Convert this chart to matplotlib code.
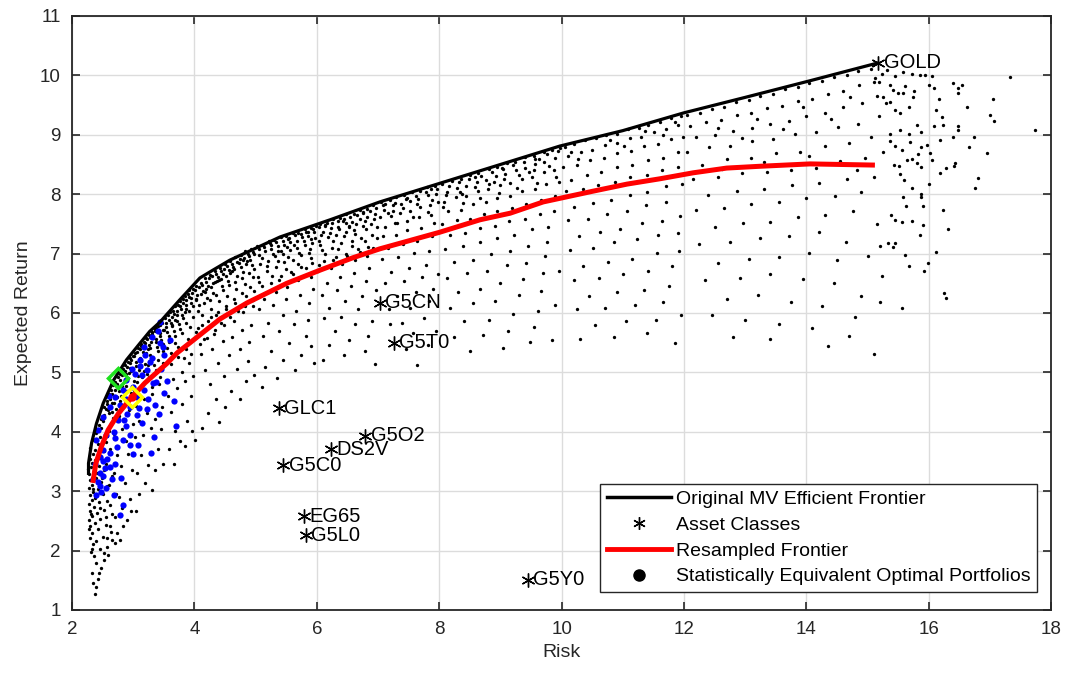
import numpy as np
import matplotlib
matplotlib.use("Agg")
import matplotlib.pyplot as plt
from matplotlib.lines import Line2D

plt.rcParams['font.family'] = ['Liberation Sans', 'DejaVu Sans']

# frontera original (MV) y frontera remuestreada
front_risk = [2.27, 2.27, 2.32, 2.40, 2.51, 2.68, 2.89, 3.11, 3.27, 3.44, 3.76, 4.09, 4.30, 4.58,
              5.40, 6.22, 7.03, 8.00, 9.00, 9.97, 11.00, 12.00, 13.00, 14.06, 15.17]
front_ret = [3.30, 3.47, 3.81, 4.14, 4.48, 4.87, 5.21, 5.49, 5.69, 5.85, 6.22, 6.59, 6.72, 6.89,
             7.28, 7.57, 7.87, 8.18, 8.50, 8.81, 9.07, 9.37, 9.63, 9.91, 10.21]

resamp_risk = [2.34, 2.39, 2.48, 2.59, 2.76, 2.96, 3.19, 3.55, 3.72, 3.93, 4.15, 4.42, 4.86,
               5.51, 6.05, 6.59, 7.03, 8.01, 8.67, 9.16, 9.70, 10.51, 11.07, 11.61, 12.15,
               12.70, 13.24, 14.06, 15.12]
resamp_ret = [3.14, 3.47, 3.75, 4.03, 4.31, 4.56, 4.82, 5.15, 5.33, 5.50, 5.68, 5.90, 6.17,
              6.50, 6.72, 6.93, 7.08, 7.36, 7.57, 7.68, 7.87, 8.05, 8.17, 8.26, 8.36,
              8.44, 8.47, 8.51, 8.49]

# clases de activos
asset_names = ['GOLD', 'G5CN', 'G5T0', 'GLC1', 'G5O2', 'DS2V', 'G5C0', 'EG65', 'G5L0', 'G5Y0']
asset_risk = [15.17, 7.03, 7.26, 5.38, 6.79, 6.23, 5.45, 5.79, 5.82, 9.45]
asset_ret = [10.21, 6.17, 5.50, 4.40, 3.93, 3.71, 3.44, 2.58, 2.26, 1.51]

# carteras remuestreadas (nube de puntos negros)
cloud_left = [
    (2.38, 1.27), (2.35, 1.46), (2.43, 1.53), (2.33, 1.63), (2.47, 1.71), (2.40, 1.79), (2.53, 1.84),
    (2.36, 1.91), (2.31, 1.97), (2.45, 2.03), (2.58, 2.06), (2.34, 2.11), (2.39, 2.16), (2.29, 2.21),
    (2.51, 2.23), (2.63, 2.31), (2.33, 2.29), (2.42, 2.36), (2.30, 2.41), (2.56, 2.43), (2.37, 2.46),
    (2.28, 2.51), (2.46, 2.53), (2.71, 2.56), (2.33, 2.59), (2.41, 2.63), (2.29, 2.67), (2.52, 2.69),
    (2.36, 2.73), (2.62, 2.76), (2.27, 2.79), (2.44, 2.81), (2.32, 2.85), (2.38, 2.89), (2.77, 2.91),
    (2.29, 2.93), (2.50, 2.96), (2.35, 2.99), (2.42, 3.03), (2.27, 3.06), (2.58, 3.09), (2.33, 3.11),
    (2.47, 3.16), (2.30, 3.19), (2.39, 3.23), (2.66, 3.26), (2.28, 3.29), (2.36, 3.33), (2.52, 3.36),
    (2.31, 3.41), (2.44, 3.43), (2.30, 3.55), (2.34, 3.62), (2.38, 3.70), (2.29, 3.73), (2.42, 3.79),
    (2.36, 3.86), (2.45, 3.91), (2.40, 3.98), (2.48, 4.06), (2.44, 4.12), (2.50, 4.18), (2.47, 4.22),
    (2.52, 4.29), (2.55, 4.38), (2.58, 4.46), (2.62, 4.55), (2.60, 4.31), (2.66, 4.63), (2.70, 4.71),
    (2.68, 4.49), (2.74, 4.81), (2.78, 4.87), (2.72, 4.39), (2.82, 4.96), (2.86, 5.03), (2.80, 4.61),
    (2.90, 5.09), (2.94, 5.16), (2.88, 4.77), (2.97, 5.21), (2.92, 4.91), (2.64, 4.14), (2.76, 4.26),
    (2.84, 4.44), (2.96, 4.66), (2.57, 3.93), (2.69, 3.96), (2.81, 4.04), (2.93, 4.36), (2.62, 3.71),
    (2.74, 3.61), (2.88, 3.84), (2.99, 4.13), (2.56, 3.46), (2.68, 3.31), (2.80, 3.43), (2.92, 3.63),
    (2.60, 3.11), (2.72, 2.96), (2.86, 3.14), (2.98, 3.36), (2.58, 2.83), (2.66, 2.61), (2.82, 2.71),
    (2.94, 2.87), (2.62, 2.41), (2.74, 2.29), (2.90, 2.52), (2.70, 2.13), (2.78, 2.17), (2.55, 2.56),
    (2.57, 2.21), (2.53, 1.96), (2.32, 3.48), (2.37, 3.52), (2.26, 3.38), (2.41, 3.30), (2.48, 3.58),
    (2.53, 3.67), (2.35, 3.04), (2.45, 2.72), (2.31, 2.62), (2.40, 2.92), (2.49, 3.22), (2.55, 3.82),
    (2.61, 4.02), (2.67, 4.24), (2.73, 4.58), (2.84, 4.69), (2.89, 4.97), (2.95, 5.08), (2.28, 2.36),
    (2.32, 2.02), (2.44, 1.62), (2.39, 1.38), (2.59, 1.92), (2.65, 2.18), (2.83, 2.41), (2.97, 2.66),
]

cloud_band = [
    (2.53, 4.41), (2.57, 4.52), (2.61, 4.63), (2.64, 4.71), (2.67, 4.79), (2.71, 4.84), (2.75, 4.92),
    (2.79, 4.98), (2.83, 5.05), (2.87, 5.12), (2.91, 5.18), (2.95, 5.24), (2.99, 5.27), (3.03, 5.33),
    (3.08, 5.41), (3.13, 5.47), (3.17, 5.52), (3.21, 5.58), (3.26, 5.63), (3.31, 5.68), (3.36, 5.73),
    (3.41, 5.78), (3.47, 5.83), (2.59, 4.37), (2.65, 4.48), (2.69, 4.61), (2.77, 4.68), (2.81, 4.77),
    (2.87, 4.88), (2.93, 4.99), (2.97, 5.03), (3.05, 5.17), (3.11, 5.24), (3.16, 5.34), (3.24, 5.39),
    (3.29, 5.51), (3.37, 5.57), (3.43, 5.66), (3.49, 5.71), (2.66, 4.33), (2.79, 4.52), (2.90, 4.68),
    (3.01, 4.86), (3.09, 5.04), (3.19, 5.14), (3.28, 5.29), (3.39, 5.43), (3.46, 5.55), (3.14, 4.93),
    (3.23, 4.98), (3.34, 5.12), (3.41, 5.21), (3.48, 5.36), (3.07, 4.83), (3.31, 4.76), (3.44, 4.93),
    (3.53, 5.83), (3.58, 5.89), (3.63, 5.93), (3.67, 5.99), (3.71, 6.04), (3.77, 6.11), (3.82, 6.17),
    (3.87, 6.22), (3.91, 6.27), (3.96, 6.33), (4.01, 6.38), (4.07, 6.43), (4.13, 6.47), (4.19, 6.53),
    (4.24, 6.59), (4.29, 6.62), (4.36, 6.66), (4.43, 6.71), (4.49, 6.74), (4.54, 6.79), (4.61, 6.82),
    (4.69, 6.86), (4.74, 6.91), (4.81, 6.93), (4.88, 6.99), (4.95, 7.02), (3.56, 5.68), (3.64, 5.78),
    (3.72, 5.87), (3.79, 5.97), (3.85, 6.02), (3.94, 6.16), (4.03, 6.23), (4.11, 6.32), (4.18, 6.36),
    (4.27, 6.43), (4.34, 6.52), (4.41, 6.55), (4.52, 6.63), (4.58, 6.68), (4.65, 6.74), (4.76, 6.78),
    (4.85, 6.83), (4.91, 6.89), (3.59, 5.52), (3.68, 5.62), (3.77, 5.73), (3.86, 5.84), (3.97, 5.94),
    (4.06, 6.04), (4.16, 6.16), (4.25, 6.22), (4.35, 6.31), (4.47, 6.38), (4.57, 6.47), (4.67, 6.52),
    (4.77, 6.59), (4.89, 6.67), (4.97, 6.74), (3.62, 5.33), (3.74, 5.43), (3.89, 5.56), (4.02, 5.68),
    (4.13, 5.79), (4.27, 5.93), (4.39, 6.02), (4.52, 6.12), (4.64, 6.23), (4.77, 6.33), (4.91, 6.44),
    (3.83, 5.24), (4.09, 5.47), (4.34, 5.71), (4.58, 5.94), (4.83, 6.12), (3.94, 5.31), (4.21, 5.58),
    (4.44, 5.84), (4.71, 6.04), (4.96, 6.22), (5.05, 7.07), (5.14, 7.11), (5.25, 7.14), (5.34, 7.19),
    (5.44, 7.22), (5.55, 7.26), (5.64, 7.31), (5.74, 7.33), (5.85, 7.37), (5.94, 7.41), (6.04, 7.45),
    (6.14, 7.48), (6.25, 7.51), (6.35, 7.55), (6.45, 7.58), (6.55, 7.61), (6.66, 7.65), (6.76, 7.68),
    (6.87, 7.72), (6.97, 7.76), (5.11, 6.92), (5.28, 7.00), (5.41, 7.05), (5.52, 7.11), (5.63, 7.14),
    (5.79, 7.21), (5.91, 7.25), (6.07, 7.32), (6.21, 7.35), (6.36, 7.41), (6.52, 7.47), (6.64, 7.49),
    (6.79, 7.55), (6.93, 7.58), (5.19, 6.79), (5.37, 6.87), (5.53, 6.94), (5.71, 7.01), (5.89, 7.07),
    (6.06, 7.14), (6.27, 7.22), (6.44, 7.29), (6.63, 7.33), (6.81, 7.41), (6.98, 7.45), (5.27, 6.62),
    (5.49, 6.74), (5.69, 6.83), (5.91, 6.93), (6.14, 6.99), (6.35, 7.07), (6.57, 7.13), (6.78, 7.21),
    (6.99, 7.26), (5.06, 6.53), (5.39, 6.55), (5.61, 6.66), (5.83, 6.76), (6.04, 6.81), (6.26, 6.89),
    (6.49, 6.96), (6.71, 7.03), (6.92, 7.09), (7.09, 7.82), (7.27, 7.86), (7.46, 7.92), (7.62, 7.97),
    (7.78, 8.03), (7.97, 8.08), (8.16, 8.14), (8.33, 8.20), (8.49, 8.26), (8.68, 8.31), (8.86, 8.37),
    (9.03, 8.44), (9.21, 8.49), (9.38, 8.55), (9.56, 8.60), (9.76, 8.67), (9.94, 8.72), (7.17, 7.68),
    (7.41, 7.76), (7.63, 7.83), (7.89, 7.91), (8.11, 7.98), (8.34, 8.04), (8.58, 8.12), (8.81, 8.18),
    (9.06, 8.26), (9.31, 8.33), (9.55, 8.40), (9.79, 8.47), (7.28, 7.52), (7.57, 7.61), (7.82, 7.70),
    (8.07, 7.79), (8.39, 7.86), (8.67, 7.93), (8.98, 8.02), (9.27, 8.11), (9.60, 8.19), (9.91, 8.29),
]

cloud_mid1 = [
    (3.02, 5.28), (3.07, 5.34), (3.11, 5.39), (3.13, 5.45), (3.19, 5.49), (3.22, 5.56), (3.27, 5.59),
    (3.30, 5.65), (3.35, 5.69), (3.38, 5.75), (3.43, 5.79), (3.46, 5.86), (3.04, 5.11), (3.12, 5.19),
    (3.21, 5.33), (3.28, 5.41), (3.37, 5.52), (3.44, 5.61), (3.08, 4.94), (3.17, 5.03), (3.24, 5.13),
    (3.33, 5.24), (3.41, 5.36), (3.48, 5.48), (3.02, 4.71), (3.15, 4.79), (3.26, 4.92), (3.38, 5.04),
    (3.49, 5.16), (3.05, 4.44), (3.18, 4.56), (3.31, 4.64), (3.42, 4.81), (3.10, 4.19), (3.22, 4.32),
    (3.36, 4.21), (3.47, 4.41), (3.03, 3.91), (3.16, 3.94), (3.29, 4.06), (3.45, 4.04), (3.12, 3.61),
    (3.24, 3.44), (3.40, 3.71), (3.06, 3.31), (3.20, 3.14), (3.35, 3.36), (3.10, 2.96), (3.30, 3.02),
    (3.04, 2.66), (3.48, 3.46), (3.52, 5.91), (3.57, 5.96), (3.60, 6.01), (3.65, 6.04), (3.68, 6.11),
    (3.73, 6.14), (3.76, 6.21), (3.81, 6.23), (3.84, 6.29), (3.89, 6.32), (3.92, 6.38), (3.97, 6.40),
    (3.54, 5.76), (3.62, 5.84), (3.71, 5.96), (3.78, 6.06), (3.86, 6.14), (3.95, 6.26), (3.58, 5.61),
    (3.66, 5.69), (3.75, 5.81), (3.82, 5.91), (3.91, 6.03), (3.98, 6.11), (3.55, 5.41), (3.69, 5.49),
    (3.80, 5.66), (3.93, 5.77), (3.61, 5.14), (3.73, 5.26), (3.87, 5.39), (3.99, 5.56), (3.65, 4.89),
    (3.79, 5.01), (3.92, 5.16), (3.57, 4.61), (3.71, 4.74), (3.85, 4.86), (3.97, 4.94), (3.62, 4.34),
    (3.80, 4.46), (3.95, 4.61), (3.68, 4.01), (3.88, 4.19), (3.58, 3.71), (3.77, 3.84), (3.96, 4.02),
    (3.66, 3.46), (3.85, 3.76), (4.01, 3.86), (4.03, 6.46), (4.11, 6.51), (4.17, 6.59), (4.26, 6.64),
    (4.33, 6.71), (4.42, 6.75), (4.50, 6.83), (4.59, 6.87), (4.66, 6.94), (4.76, 6.97), (4.83, 7.04),
    (4.93, 7.07), (4.05, 6.31), (4.14, 6.37), (4.23, 6.46), (4.30, 6.51), (4.39, 6.61), (4.46, 6.65),
    (4.56, 6.73), (4.63, 6.77), (4.73, 6.85), (4.80, 6.89), (4.90, 6.96), (4.98, 6.99), (4.08, 6.14),
    (4.21, 6.26), (4.31, 6.34), (4.45, 6.46), (4.55, 6.54), (4.69, 6.63), (4.79, 6.69), (4.94, 6.81),
    (4.12, 5.96), (4.27, 6.07), (4.40, 6.21), (4.53, 6.29), (4.68, 6.41), (4.82, 6.49), (4.96, 6.61),
    (4.06, 5.74), (4.23, 5.86), (4.36, 5.97), (4.51, 6.06), (4.66, 6.17), (4.84, 6.29), (4.98, 6.37),
    (4.15, 5.56), (4.32, 5.64), (4.48, 5.79), (4.64, 5.87), (4.80, 6.01), (4.95, 6.11), (4.10, 5.31),
    (4.28, 5.39), (4.46, 5.53), (4.62, 5.59), (4.78, 5.71), (4.92, 5.79), (4.18, 5.04), (4.38, 5.16),
    (4.56, 5.29), (4.74, 5.39), (4.90, 5.51), (4.25, 4.81), (4.48, 4.94), (4.70, 5.06), (4.88, 5.19),
    (4.35, 4.56), (4.60, 4.69), (4.85, 4.86), (4.22, 4.31), (4.50, 4.41), (4.12, 4.06), (4.40, 4.16),
    (4.75, 4.56), (4.98, 4.96), (3.33, 5.58), (3.51, 5.72), (3.69, 5.88), (3.87, 6.06), (4.02, 6.22),
    (4.19, 6.41), (4.37, 6.54), (4.61, 6.70), (4.86, 6.87), (3.26, 5.46), (3.63, 5.80), (4.44, 6.58),
]

cloud_mid2 = [
    (5.03, 7.12), (5.12, 7.15), (5.22, 7.21), (5.30, 7.23), (5.41, 7.28), (5.50, 7.29), (5.61, 7.34),
    (5.70, 7.35), (5.81, 7.41), (5.90, 7.43), (5.98, 7.47), (5.06, 6.97), (5.16, 7.04), (5.26, 7.07),
    (5.37, 7.13), (5.46, 7.14), (5.56, 7.20), (5.67, 7.22), (5.76, 7.28), (5.86, 7.30), (5.96, 7.36),
    (5.08, 6.83), (5.21, 6.87), (5.32, 6.96), (5.44, 6.99), (5.57, 7.06), (5.68, 7.09), (5.81, 7.15),
    (5.92, 7.17), (5.04, 6.61), (5.18, 6.71), (5.33, 6.77), (5.46, 6.86), (5.61, 6.89), (5.74, 6.97),
    (5.88, 7.01), (5.10, 6.46), (5.26, 6.51), (5.42, 6.63), (5.58, 6.69), (5.74, 6.77), (5.92, 6.84),
    (5.14, 6.24), (5.34, 6.36), (5.52, 6.44), (5.70, 6.56), (5.90, 6.61), (5.06, 6.06), (5.28, 6.14),
    (5.50, 6.23), (5.72, 6.31), (5.94, 6.41), (5.20, 5.84), (5.44, 5.96), (5.66, 6.04), (5.88, 6.16),
    (5.12, 5.61), (5.38, 5.69), (5.62, 5.81), (5.86, 5.89), (5.25, 5.36), (5.55, 5.49), (5.82, 5.61),
    (5.15, 5.09), (5.45, 5.21), (5.75, 5.29), (5.35, 4.91), (5.65, 5.04), (5.95, 5.16), (5.10, 4.76),
    (5.90, 5.44), (6.05, 7.50), (6.16, 7.52), (6.26, 7.58), (6.38, 7.60), (6.48, 7.66), (6.60, 7.67),
    (6.70, 7.73), (6.82, 7.75), (6.92, 7.81), (6.10, 7.37), (6.23, 7.43), (6.34, 7.45), (6.47, 7.51),
    (6.58, 7.53), (6.71, 7.59), (6.82, 7.61), (6.95, 7.67), (6.04, 7.21), (6.19, 7.28), (6.32, 7.31),
    (6.47, 7.37), (6.60, 7.39), (6.75, 7.46), (6.88, 7.49), (6.08, 7.06), (6.25, 7.09), (6.40, 7.17),
    (6.57, 7.21), (6.72, 7.27), (6.90, 7.31), (6.12, 6.87), (6.31, 6.95), (6.48, 6.99), (6.67, 7.07),
    (6.84, 7.11), (6.02, 6.71), (6.23, 6.75), (6.42, 6.83), (6.63, 6.89), (6.82, 6.96), (6.16, 6.51),
    (6.38, 6.61), (6.61, 6.67), (6.86, 6.76), (6.08, 6.31), (6.33, 6.39), (6.56, 6.46), (6.80, 6.54),
    (6.20, 6.09), (6.46, 6.21), (6.74, 6.29), (6.96, 6.39), (6.12, 5.91), (6.40, 5.94), (6.68, 6.06),
    (6.30, 5.69), (6.62, 5.81), (6.90, 5.87), (6.20, 5.46), (6.52, 5.54), (6.84, 5.61), (6.45, 5.29),
    (6.78, 5.36), (6.10, 5.21), (6.95, 5.14), (7.05, 7.87), (7.19, 7.90), (7.30, 7.96), (7.43, 7.98),
    (7.55, 8.04), (7.69, 8.06), (7.80, 8.12), (7.93, 8.14), (7.10, 7.74), (7.25, 7.81), (7.38, 7.83),
    (7.53, 7.89), (7.66, 7.92), (7.81, 7.98), (7.94, 8.00), (7.04, 7.61), (7.21, 7.63), (7.36, 7.69),
    (7.53, 7.72), (7.68, 7.79), (7.85, 7.81), (7.98, 7.87), (7.12, 7.44), (7.31, 7.51), (7.48, 7.55),
    (7.67, 7.61), (7.86, 7.65), (7.08, 7.29), (7.29, 7.32), (7.48, 7.39), (7.71, 7.43), (7.92, 7.51),
    (7.16, 7.09), (7.41, 7.16), (7.64, 7.21), (7.89, 7.29), (7.06, 6.91), (7.32, 6.94), (7.59, 7.01),
    (7.84, 7.05), (7.22, 6.69), (7.51, 6.76), (7.78, 6.81), (7.12, 6.51), (7.43, 6.54), (7.72, 6.61),
    (7.98, 6.65), (7.31, 6.29), (7.62, 6.36), (7.90, 6.41), (7.18, 6.06), (7.53, 6.09), (7.84, 6.21),
    (7.40, 5.84), (7.76, 5.91), (7.58, 5.66), (7.95, 5.69), (7.46, 5.39), (7.82, 5.46), (7.64, 5.12),
    (7.20, 5.81), (5.23, 7.17), (5.53, 7.25), (5.83, 7.37), (6.13, 7.46), (6.43, 7.55), (6.76, 7.70),
    (7.12, 7.83), (7.47, 7.94), (7.87, 8.09), (5.36, 7.05), (5.97, 7.26), (6.53, 7.44), (7.24, 7.71),
]

cloud_mid3 = [
    (8.05, 8.17), (8.21, 8.23), (8.35, 8.26), (8.51, 8.33), (8.64, 8.36), (8.81, 8.43), (8.95, 8.45),
    (9.11, 8.52), (9.24, 8.55), (9.41, 8.62), (9.55, 8.65), (9.71, 8.71), (9.84, 8.74), (9.98, 8.78),
    (8.12, 8.04), (8.29, 8.11), (8.44, 8.13), (8.61, 8.21), (8.76, 8.24), (8.93, 8.31), (9.08, 8.34),
    (9.25, 8.41), (9.40, 8.44), (9.57, 8.51), (9.72, 8.54), (9.90, 8.61), (8.08, 7.87), (8.27, 7.95),
    (8.44, 7.97), (8.63, 8.05), (8.80, 8.08), (8.99, 8.15), (9.16, 8.19), (9.35, 8.26), (9.52, 8.29),
    (9.71, 8.37), (9.88, 8.41), (8.15, 7.71), (8.36, 7.74), (8.55, 7.83), (8.76, 7.87), (8.95, 7.93),
    (9.16, 7.97), (9.35, 8.05), (9.56, 8.09), (9.75, 8.17), (9.95, 8.21), (8.05, 7.49), (8.29, 7.56),
    (8.50, 7.59), (8.73, 7.67), (8.94, 7.71), (9.19, 7.77), (9.42, 7.83), (9.67, 7.91), (9.90, 7.97),
    (8.18, 7.31), (8.43, 7.34), (8.66, 7.43), (8.91, 7.47), (9.14, 7.55), (9.41, 7.59), (9.64, 7.67),
    (9.88, 7.71), (8.10, 7.07), (8.39, 7.13), (8.66, 7.19), (8.95, 7.26), (9.22, 7.31), (9.51, 7.41),
    (9.78, 7.45), (8.25, 6.86), (8.56, 6.89), (8.85, 6.99), (9.16, 7.04), (9.45, 7.13), (9.76, 7.19),
    (8.12, 6.59), (8.46, 6.67), (8.78, 6.71), (9.11, 6.81), (9.42, 6.85), (9.73, 6.96), (8.30, 6.36),
    (8.67, 6.41), (9.00, 6.51), (9.37, 6.57), (9.70, 6.67), (9.95, 6.71), (8.18, 6.09), (8.56, 6.16),
    (8.92, 6.21), (9.31, 6.31), (9.66, 6.37), (8.40, 5.86), (8.81, 5.89), (9.20, 5.99), (9.61, 6.04),
    (9.90, 6.13), (8.25, 5.59), (8.71, 5.63), (9.12, 5.69), (9.55, 5.76), (8.50, 5.36), (9.05, 5.41),
    (9.48, 5.51), (9.85, 5.54), (10.05, 8.80), (10.21, 8.84), (10.38, 8.91), (10.56, 8.94),
    (10.72, 9.00), (10.91, 9.02), (11.08, 9.09), (11.26, 9.11), (11.42, 9.17), (11.61, 9.21),
    (11.78, 9.28), (11.95, 9.31), (10.10, 8.64), (10.31, 8.71), (10.50, 8.75), (10.71, 8.83),
    (10.90, 8.87), (11.11, 8.94), (11.30, 8.97), (11.51, 9.05), (11.70, 9.09), (11.91, 9.16),
    (10.02, 8.46), (10.25, 8.49), (10.46, 8.57), (10.69, 8.61), (10.90, 8.69), (11.13, 8.73),
    (11.34, 8.81), (11.57, 8.85), (11.78, 8.93), (11.98, 8.97), (10.15, 8.24), (10.41, 8.33),
    (10.65, 8.37), (10.91, 8.45), (11.15, 8.49), (11.41, 8.57), (11.65, 8.61), (11.90, 8.71),
    (10.08, 8.06), (10.35, 8.09), (10.60, 8.16), (10.87, 8.21), (11.12, 8.29), (11.39, 8.33),
    (11.64, 8.41), (11.90, 8.45), (10.20, 7.79), (10.51, 7.86), (10.80, 7.91), (11.11, 7.99),
    (11.40, 8.04), (11.71, 8.13), (11.96, 8.17), (10.10, 7.56), (10.43, 7.59), (10.74, 7.67),
    (11.07, 7.71), (11.38, 7.81), (11.70, 7.87), (10.28, 7.29), (10.63, 7.36), (10.96, 7.41),
    (11.31, 7.51), (11.64, 7.55), (11.94, 7.63), (10.14, 7.06), (10.51, 7.09), (10.86, 7.19),
    (11.23, 7.24), (11.58, 7.31), (11.90, 7.35), (10.35, 6.79), (10.76, 6.86), (11.15, 6.91),
    (11.56, 7.01), (11.92, 7.05), (10.20, 6.56), (10.61, 6.59), (11.00, 6.66), (11.41, 6.71),
    (11.80, 6.79), (10.45, 6.29), (10.91, 6.36), (11.35, 6.39), (11.76, 6.46), (10.25, 6.06),
    (10.71, 6.09), (11.20, 6.13), (11.65, 6.19), (10.55, 5.79), (11.06, 5.86), (11.55, 5.89),
    (11.95, 5.96), (10.30, 5.56), (10.86, 5.59), (11.40, 5.66), (11.85, 5.49), (8.58, 8.29),
    (9.04, 8.42), (9.63, 8.60), (10.16, 8.71), (10.79, 8.91), (11.36, 9.06), (11.86, 9.22),
    (8.89, 8.20), (9.46, 8.38), (10.27, 8.59), (11.02, 8.81), (11.66, 8.99), (8.38, 8.01),
]

cloud_right = [
    (12.05, 9.33), (12.26, 9.37), (12.45, 9.44), (12.66, 9.47), (12.85, 9.55), (13.06, 9.59),
    (13.25, 9.66), (13.46, 9.69), (13.65, 9.77), (13.86, 9.81), (14.05, 9.87), (14.26, 9.91),
    (14.45, 9.98), (14.66, 10.01), (14.85, 10.08), (15.05, 10.11), (12.10, 9.14), (12.36, 9.21),
    (12.60, 9.25), (12.86, 9.33), (13.10, 9.37), (13.36, 9.45), (13.60, 9.49), (13.86, 9.57),
    (14.10, 9.61), (14.36, 9.69), (14.60, 9.74), (14.86, 9.83), (15.10, 9.89), (12.20, 8.96),
    (12.51, 8.99), (12.80, 9.06), (13.11, 9.11), (13.40, 9.19), (13.71, 9.23), (14.00, 9.31),
    (14.31, 9.37), (14.60, 9.46), (14.91, 9.54), (15.15, 9.66), (12.05, 8.71), (12.41, 8.79),
    (12.75, 8.81), (13.11, 8.89), (13.45, 8.93), (13.81, 9.01), (14.15, 9.04), (14.51, 9.13),
    (14.85, 9.19), (15.18, 9.31), (12.30, 8.49), (12.71, 8.59), (13.10, 8.61), (13.51, 8.69),
    (13.90, 8.71), (14.31, 8.81), (14.70, 8.87), (15.05, 8.96), (12.15, 8.26), (12.56, 8.29),
    (12.95, 8.36), (13.36, 8.37), (13.75, 8.41), (14.16, 8.44), (14.55, 8.56), (14.95, 8.61),
    (15.25, 8.71), (12.40, 7.99), (12.86, 8.06), (13.30, 8.09), (13.76, 8.16), (14.20, 8.19),
    (14.66, 8.26), (15.10, 8.29), (12.20, 7.73), (12.66, 7.77), (13.10, 7.83), (13.56, 7.87),
    (14.00, 7.93), (14.46, 7.97), (14.90, 8.03), (12.50, 7.44), (12.96, 7.51), (13.40, 7.54),
    (13.86, 7.61), (14.30, 7.65), (14.76, 7.71), (15.15, 7.49), (12.25, 7.16), (12.76, 7.19),
    (13.25, 7.26), (13.71, 7.29), (14.20, 7.36), (14.65, 7.19), (12.55, 6.84), (13.06, 6.91),
    (13.55, 6.94), (14.05, 7.01), (14.50, 6.89), (15.00, 6.96), (12.35, 6.56), (12.91, 6.59),
    (13.40, 6.66), (13.95, 6.57), (14.45, 6.51), (14.90, 6.29), (12.70, 6.24), (13.21, 6.31),
    (13.75, 6.19), (14.25, 6.11), (14.80, 5.94), (12.45, 5.96), (13.00, 5.89), (13.55, 5.81),
    (14.10, 5.74), (14.70, 5.61), (12.80, 5.59), (13.40, 5.56), (14.35, 5.44), (15.10, 5.31),
    (12.55, 9.12), (13.20, 9.27), (13.95, 9.47), (14.72, 9.64), (12.95, 8.94), (13.62, 9.10),
    (14.40, 9.27), (12.62, 8.42), (13.30, 8.55), (14.05, 8.64), (14.82, 8.41),
]

cloud_far = [
    (17.33, 9.98), (17.74, 9.08), (17.05, 9.61), (17.00, 9.33), (17.07, 9.24), (16.63, 9.46),
    (16.39, 9.88), (16.47, 9.78), (16.54, 9.84), (16.48, 9.70), (16.16, 9.60), (16.08, 9.78),
    (16.01, 9.84), (16.12, 9.42), (16.21, 9.30), (16.24, 9.16), (16.08, 9.15), (16.47, 9.14),
    (16.47, 9.08), (16.40, 8.96), (16.74, 8.97), (16.19, 8.92), (16.66, 8.79), (16.95, 8.70),
    (16.02, 8.70), (16.06, 8.58), (16.43, 8.52), (16.42, 8.47), (16.28, 8.44), (16.19, 8.36),
    (16.80, 8.27), (16.76, 8.11), (16.01, 8.18), (16.23, 7.73), (16.31, 7.41), (16.12, 7.02),
    (16.25, 6.34), (16.28, 6.26), (15.98, 6.85), (15.92, 6.70), (15.87, 8.01), (15.91, 7.80),
    (15.91, 7.48), (15.85, 7.32), (15.61, 6.97), (15.67, 6.79), (15.56, 6.09), (15.23, 6.62),
    (15.21, 6.18), (15.45, 7.18), (15.42, 7.11), (15.34, 7.17), (15.21, 7.13), (15.72, 7.55),
    (15.56, 7.54), (15.45, 7.57), (15.38, 7.65), (15.88, 7.96), (15.63, 7.80), (15.58, 7.95),
    (15.73, 8.10), (15.60, 8.24), (15.53, 8.34), (15.87, 8.45), (15.80, 8.52), (15.72, 8.59),
    (15.64, 8.58), (15.52, 8.47), (15.44, 8.49), (15.83, 8.67), (15.88, 8.80), (15.97, 8.83),
    (15.70, 8.88), (15.56, 8.74), (15.45, 8.81), (15.36, 8.90), (15.80, 9.17), (15.87, 9.04),
    (15.67, 9.02), (15.53, 9.08), (15.37, 9.02), (15.75, 9.64), (15.76, 9.73), (15.67, 9.46),
    (15.45, 9.42), (15.53, 9.37), (15.61, 9.82), (15.58, 9.70), (15.50, 9.71), (15.42, 9.75),
    (15.37, 9.84), (15.36, 9.56), (15.30, 9.53), (15.26, 9.64), (15.72, 10.03), (15.86, 10.00),
    (15.94, 10.00), (16.05, 9.99), (15.58, 10.06), (15.45, 9.99), (15.24, 10.03), (15.31, 10.09),
    (15.12, 9.95), (15.18, 9.89),
]

# carteras estadisticamente equivalentes (azul)
equiv_pts = [
    (2.39, 2.94), (2.46, 3.08), (2.51, 3.25), (2.54, 3.39), (2.62, 3.41), (2.68, 2.94), (2.78, 2.60),
    (2.83, 2.77), (2.80, 3.22), (2.95, 3.78), (3.00, 3.63), (3.08, 3.77), (3.29, 3.64), (3.34, 3.92),
    (3.42, 4.30), (3.66, 4.52), (3.70, 4.10), (3.23, 4.38), (3.38, 4.84), (3.27, 5.18), (3.44, 5.49),
    (3.17, 5.43), (3.11, 5.21), (3.06, 4.28), (2.89, 4.09), (2.84, 3.86), (2.73, 3.75), (2.62, 3.64),
    (2.46, 3.58), (2.40, 3.86), (2.43, 4.03), (2.51, 4.25), (2.62, 4.42), (2.70, 4.59), (2.84, 4.70),
    (2.89, 4.87), (3.03, 4.98), (3.11, 5.10), (3.22, 5.04), (3.33, 4.82), (3.06, 4.59), (3.17, 4.70),
    (2.95, 4.42), (3.44, 5.85), (3.49, 5.43), (3.30, 5.60), (3.20, 5.30), (2.98, 5.05), (2.90, 4.30),
    (2.75, 4.20), (2.68, 4.00), (2.55, 3.95), (2.50, 3.70), (2.58, 3.55), (2.70, 3.45), (2.45, 3.30),
    (2.65, 3.20), (2.55, 3.05), (2.42, 3.15), (2.60, 4.60), (2.78, 4.45), (3.00, 4.75), (3.15, 4.95),
    (3.25, 4.55), (3.35, 4.45), (3.50, 4.65), (3.55, 4.85), (3.45, 5.05), (3.30, 5.25), (3.50, 5.30),
    (3.60, 5.55), (3.40, 5.70), (2.88, 4.55), (2.70, 3.90), (2.50, 3.50), (2.38, 3.45), (2.35, 3.20),
    (2.48, 2.98), (2.85, 4.20), (3.10, 4.40), (2.95, 3.95), (3.15, 4.15),
]

best_equiv = (2.75, 4.91)
best_resamp = (2.98, 4.59)

cloud = np.array(cloud_left + cloud_band + cloud_mid1 + cloud_mid2 + cloud_mid3
                 + cloud_right + cloud_far)
equiv = np.array(equiv_pts)

fig = plt.figure(figsize=(10.65, 6.75), dpi=100)
ax = fig.add_axes([0.0676, 0.0963, 0.9194, 0.8800])

ax.plot(cloud[:, 0], cloud[:, 1], linestyle='none', marker='o', markersize=2.4,
        color='black', markeredgewidth=0, zorder=2)
ax.plot(equiv[:, 0], equiv[:, 1], linestyle='none', marker='o', markersize=4.5,
        color='#0000ff', markeredgewidth=0, zorder=3)
ax.plot(front_risk, front_ret, color='black', linewidth=2.3, zorder=4)
ax.plot(resamp_risk, resamp_ret, color='#ff0000', linewidth=3.6, zorder=5,
        solid_capstyle='butt', solid_joinstyle='round')
ax.plot(best_resamp[0], best_resamp[1], marker='o', markersize=5, color='#ff0000', zorder=6)
ax.plot(best_resamp[0], best_resamp[1], marker='D', markersize=10, markerfacecolor='none',
        markeredgecolor='#ffff00', markeredgewidth=2.5, zorder=7)
ax.plot(best_equiv[0], best_equiv[1], marker='D', markersize=10, markerfacecolor='none',
        markeredgecolor='#1ee01e', markeredgewidth=2.5, zorder=7)

ax.plot(asset_risk, asset_ret, linestyle='none', marker=(6, 2, 0), markersize=10,
        color='black', markeredgewidth=1.0, zorder=8)
for name, xr, yr in zip(asset_names, asset_risk, asset_ret):
    ax.annotate(name, (xr, yr), xytext=(4, 0), textcoords='offset points',
                ha='left', va='center', fontsize=14.5, color='black', zorder=9)

ax.set_xlim(2, 18)
ax.set_ylim(1, 11)
ax.set_xticks(np.arange(2, 19, 2))
ax.set_yticks(np.arange(1, 12, 1))
ax.grid(True, color='#dcdcdc', linewidth=1.0)
ax.set_axisbelow(True)
ax.tick_params(direction='in', length=6, width=1.2, colors='#262626', labelsize=13.5,
               top=True, right=True, pad=8)
for s in ax.spines.values():
    s.set_color('#262626')
    s.set_linewidth(1.3)

ax.set_xlabel('Risk', fontsize=14, color='#262626', labelpad=4)
ax.set_ylabel('Expected Return', fontsize=14, color='#262626', labelpad=6)

handles = [
    Line2D([], [], color='black', linewidth=2.5),
    Line2D([], [], linestyle='none', marker=(6, 2, 0), markersize=9, color='black'),
    Line2D([], [], color='#ff0000', linewidth=3.5),
    Line2D([], [], linestyle='none', marker='o', markersize=8, color='black'),
]
labels = ['Original MV Efficient Frontier', 'Asset Classes', 'Resampled Frontier',
          'Statistically Equivalent Optimal Portfolios']
leg = ax.legend(handles, labels, loc='lower right', fontsize=14, frameon=True,
                fancybox=False, framealpha=1, edgecolor='#262626', handlelength=3.3,
                labelspacing=0.42, handletextpad=0.25, borderpad=0.35,
                borderaxespad=0, bbox_to_anchor=(0.986, 0.03))
leg.get_frame().set_linewidth(1.0)

fig.savefig('out.png', dpi=100)
